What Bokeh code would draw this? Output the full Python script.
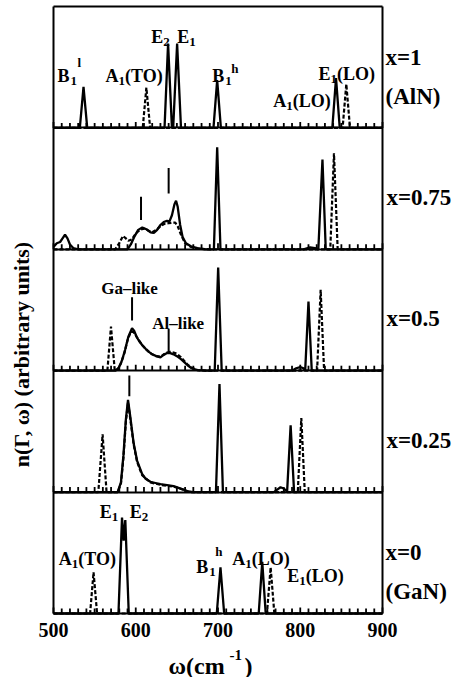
import math
from bokeh.plotting import figure
from bokeh.models import Label, LinearAxis, SingleIntervalTicker, Range1d, CustomJSTickFormatter
from bokeh.embed import file_html
from bokeh.resources import INLINE

# ---------------- data ----------------
# panel offsets: x=0 -> 0, x=0.25 -> 1, x=0.5 -> 2, x=0.75 -> 3, x=1 -> 4
compositions = ["x=0", "x=0.25", "x=0.5", "x=0.75", "x=1"]

w_x1_solid = [500, 532, 536.5, 541, 635, 639.3, 644, 645.5, 650.3, 655, 694.5, 699, 703.5, 839, 843.5, 848, 900]
h_x1_solid = [0, 0, 0.338, 0, 0, 0.694, 0, 0, 0.694, 0, 0, 0.393, 0, 0, 0.41, 0, 0]
w_x1_dash = [500, 608.5, 612.9, 617.5, 851.5, 856, 860.5, 900]
h_x1_dash = [0, 0, 0.332, 0, 0, 0.36, 0, 0]

w_x075_solid = [500, 504, 508, 511, 514, 517, 520, 524, 530, 590, 594, 598, 603, 608, 613, 618, 622, 626, 630,
                634, 638, 641, 644, 647, 649, 651, 654, 657, 661, 667, 675, 685, 695, 699, 703, 804, 812, 818,
                822, 827, 831, 900]
h_x075_solid = [0.02, 0.05, 0.06, 0.09, 0.12, 0.09, 0.04, 0.01, 0, 0, 0.04, 0.10, 0.16, 0.18, 0.165, 0.14, 0.135,
                0.16, 0.20, 0.225, 0.235, 0.23, 0.28, 0.37, 0.40, 0.35, 0.20, 0.10, 0.05, 0.025, 0.01, 0, 0, 0.84,
                0, 0, 0.015, 0.01, 0, 0.74, 0, 0]
w_x075_dash = [500, 575, 580, 584.5, 588, 591, 595, 600, 605, 610, 615, 620, 625, 630, 635, 640, 645, 648, 651,
               655, 660, 667, 675, 690, 836.5, 841, 845.5, 900]
h_x075_dash = [0, 0, 0.05, 0.11, 0.09, 0.07, 0.08, 0.13, 0.16, 0.17, 0.155, 0.14, 0.16, 0.19, 0.21, 0.215, 0.22,
               0.22, 0.19, 0.12, 0.05, 0.02, 0.005, 0, 0, 0.79, 0, 0]

w_x05_solid = [500, 575, 579, 583, 587, 591, 595.5, 598, 601, 604, 608, 612, 616, 620, 625, 630, 634, 638, 642,
               646, 650, 655, 659, 663, 668, 675, 685, 696, 700.2, 704.5, 790, 795, 800, 804, 806, 810, 814, 900]
h_x05_solid = [0, 0, 0.02, 0.08, 0.17, 0.28, 0.35, 0.33, 0.28, 0.245, 0.21, 0.18, 0.155, 0.135, 0.12, 0.11, 0.13,
               0.145, 0.145, 0.135, 0.12, 0.095, 0.07, 0.045, 0.02, 0.005, 0, 0, 0.85, 0, 0, 0.02, 0.03, 0.02, 0,
               0.57, 0, 0]
w_x05_dash = [500, 565.5, 569.9, 574.5, 578, 582, 586, 590, 594, 597, 600, 604, 608, 612, 616, 620, 625, 630, 634,
              638, 642, 646, 650, 655, 659, 663, 668, 675, 685, 820.5, 824.8, 829, 900]
h_x05_dash = [0, 0, 0.364, 0, 0.01, 0.06, 0.14, 0.25, 0.32, 0.32, 0.29, 0.25, 0.21, 0.18, 0.155, 0.135, 0.12,
              0.115, 0.135, 0.15, 0.155, 0.15, 0.14, 0.11, 0.08, 0.05, 0.025, 0.005, 0, 0, 0.666, 0, 0]

w_x025_solid = [500, 578, 582, 585, 588, 590.6, 593.4, 597.5, 601.6, 607.7, 612, 617.8, 624, 630, 638, 646, 652,
                658, 664, 670, 697.5, 701.8, 706, 768, 772, 776, 780, 783, 784, 788.3, 792.5, 900]
h_x025_solid = [0, 0, 0.08, 0.30, 0.60, 0.76, 0.62, 0.40, 0.26, 0.15, 0.11, 0.085, 0.075, 0.065, 0.058, 0.05,
                0.035, 0.02, 0.005, 0, 0, 0.89, 0, 0, 0.02, 0.04, 0.03, 0.01, 0, 0.55, 0, 0]
w_x025_dash = [500, 554.5, 559.7, 564.5, 578, 582, 585, 588, 590.6, 593.4, 597.5, 601.6, 607.7, 617.8, 630, 646,
               658, 665, 797, 801.3, 805.5, 900]
h_x025_dash = [0, 0, 0.476, 0, 0, 0.07, 0.28, 0.58, 0.74, 0.60, 0.39, 0.25, 0.14, 0.08, 0.06, 0.045, 0.02, 0, 0,
               0.61, 0, 0]

w_x0_solid = [500, 579, 583.3, 585.3, 587.3, 591.5, 698.5, 703, 707.5, 749.5, 753.8, 758, 900]
h_x0_solid = [0, 0, 0.79, 0.60, 0.77, 0, 0, 0.38, 0, 0, 0.425, 0, 0]
w_x0_dash = [500, 544.5, 548.7, 553, 759.5, 764, 768.5, 900]
h_x0_dash = [0, 0, 0.34, 0, 0, 0.38, 0, 0]

# vertical marker lines: panel index, wavenumber, bottom and top height
mark_panel = [3, 3, 2, 2, 1]
mark_w = [606.4, 640, 595.5, 640, 592.2]
mark_h0 = [0.242, 0.46, 0.414, 0.153, 0.79]
mark_h1 = [0.433, 0.67, 0.605, 0.345, 0.96]

x_lo, x_hi = 500, 900
x_ticks_major = 100
x_ticks_minor = 10
n_panels = 5

# ---------------- geometry helpers (pixel -> data) ----------------
W, H = 456, 677
FL, FR, FT, FB = 53, 382, 6, 613      # plotting box in pixels


def wx(px):
    return x_lo + (px - FL) * (x_hi - x_lo) / (FR - FL)


def wy(py):
    return (FB - py) * n_panels / (FB - FT)


PX_Y = n_panels / (FB - FT)           # data units per vertical pixel

FONT = "Liberation Serif"
p = figure(width=W, height=H, output_backend="svg", toolbar_location=None,
           x_range=Range1d(wx(0), wx(W)), y_range=Range1d(wy(H), wy(0)),
           x_axis_location=None, y_axis_location=None, min_border=0)
p.grid.visible = False
p.outline_line_color = None
p.background_fill_color = "white"
p.border_fill_color = "white"

blank = CustomJSTickFormatter(code="return ''")


def h_axis(loc, labels=False):
    ax = LinearAxis(fixed_location=loc, bounds=(x_lo, x_hi),
                    ticker=SingleIntervalTicker(interval=x_ticks_major, num_minor_ticks=10),
                    axis_line_width=2, axis_line_color="black",
                    major_tick_in=0, major_tick_out=0, minor_tick_in=0, minor_tick_out=0)
    if labels:
        ax.major_label_standoff = 9
        ax.major_label_text_font = FONT
        ax.major_label_text_font_style = "bold"
        ax.major_label_text_font_size = "20px"
        ax.major_label_text_color = "black"
    else:
        ax.formatter = blank
    p.add_layout(ax, "below")


h_axis(0, labels=True)
for k in range(1, n_panels + 1):
    h_axis(k)

for loc, side in [(x_lo, "left"), (x_hi, "right")]:
    va = LinearAxis(fixed_location=loc, bounds=(0, n_panels), axis_line_width=2, axis_line_color="black",
                    major_tick_in=0, major_tick_out=0, minor_tick_in=0, minor_tick_out=0,
                    formatter=blank)
    p.add_layout(va, side)

# inward ticks along the bottom edge of every panel
tick_vals = list(range(x_lo, x_hi + 1, x_ticks_minor))
tx, ty0, ty1 = [], [], []
for k in range(n_panels):
    for t in tick_vals:
        length = 6 if t % x_ticks_major == 0 else 5
        tx.append(t)
        ty0.append(k)
        ty1.append(k + length * PX_Y)
p.segment(x0=tx, x1=tx, y0=ty0, y1=ty1, line_color="black", line_width=1.8)

series = [
    (0, w_x0_solid, h_x0_solid, w_x0_dash, h_x0_dash),
    (1, w_x025_solid, h_x025_solid, w_x025_dash, h_x025_dash),
    (2, w_x05_solid, h_x05_solid, w_x05_dash, h_x05_dash),
    (3, w_x075_solid, h_x075_solid, w_x075_dash, h_x075_dash),
    (4, w_x1_solid, h_x1_solid, w_x1_dash, h_x1_dash),
]
for off, ws, hs, wd, hd in series:
    p.line(wd, [h + off for h in hd], line_color="black", line_width=2.2, line_dash="4 2")
    p.line(ws, [h + off for h in hs], line_color="black", line_width=2.3)

p.segment(x0=mark_w, x1=mark_w,
          y0=[h + o for h, o in zip(mark_h0, mark_panel)],
          y1=[h + o for h, o in zip(mark_h1, mark_panel)],
          line_color="black", line_width=2)


# ---------------- texts ----------------
def txt(parts, px, py, **kw):
    for s, size, dx, dy in parts:
        p.add_layout(Label(x=wx(px + dx), y=wy(py + dy), text=s, text_font=FONT, text_font_style="bold",
                           text_font_size=f"{size}px", text_color="black", text_baseline="alphabetic",
                           text_align="left", **kw))


M, S = 18, 13
# x = 1 (AlN)
txt([("B", M, 0, 0), ("1", S, 13, 5), ("l", S, 20, -13)], 57, 75)
txt([("A", M, 0, 0), ("1", S, 13, 5), ("(TO)", M, 19.5, 0)], 105, 75)
txt([("E", M, 0, 0), ("2", S, 12, 5)], 150.7, 36.7)
txt([("E", M, 0, 0), ("1", S, 12, 5)], 176.7, 36.7)
txt([("B", M, 0, 0), ("1", S, 13, 5), ("h", S, 19, -7)], 211.7, 75)
txt([("A", M, 0, 0), ("1", S, 13, 5), ("(LO)", M, 19.5, 0)], 272.7, 100)
txt([("E", M, 0, 0), ("1", S, 12, 5), ("(LO)", M, 18.5, 0)], 318, 73)
# x = 0.5
txt([("Ga–like", 17, 0, 0)], 100.7, 288.3)
txt([("Al–like", 17, 0, 0)], 151.7, 322.7)
# x = 0 (GaN)
txt([("E", M, 0, 0), ("1", S, 12, 5)], 99.3, 511.7)
txt([("E", M, 0, 0), ("2", S, 12, 5)], 129.3, 511.7)
txt([("A", M, 0, 0), ("1", S, 13, 5), ("(TO)", M, 19.5, 0)], 58.3, 558.3)
txt([("B", M, 0, 0), ("1", S, 13, 5), ("h", S, 19, -16)], 195.7, 566.7)
txt([("A", M, 0, 0), ("1", S, 13, 5), ("(LO)", M, 19.5, 0)], 231.7, 558.3)
txt([("E", M, 0, 0), ("1", S, 12, 5), ("(LO)", M, 18.5, 0)], 286.7, 575)

# composition labels on the right
R = 23
txt([("x=1", R, 0, 0)], 385, 57)
txt([("(AlN)", R, 0, 0)], 385, 96)
txt([("x=0.75", R, 0, 0)], 386, 197)
txt([("x=0.5", R, 0, 0)], 386, 318)
txt([("x=0.25", R, 0, 0)], 386, 440)
txt([("x=0", R, 0, 0)], 385, 552)
txt([("(GaN)", R, 0, 0)], 385, 591)

# axis titles
txt([("ω(cm", 24, 0, 0), ("-1", 15, 61, -11), (")", 24, 76, 0)], 168, 665)
p.add_layout(Label(x=wx(21), y=wy(354), text="n(Γ, ω) (arbitrary units)", angle=math.pi / 2,
                   text_font=FONT, text_font_style="bold", text_font_size="22px", text_color="black",
                   text_align="center", text_baseline="middle"))

open("out.html", "w").write(file_html(p, INLINE))
